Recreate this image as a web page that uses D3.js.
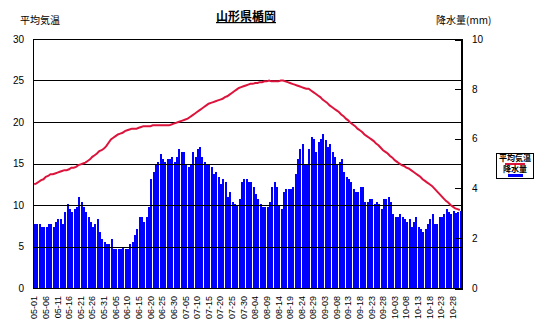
<!DOCTYPE html>
<html><head><meta charset="utf-8">
<script src="https://cdn.jsdelivr.net/npm/d3@7"></script>
<style>
html,body{margin:0;padding:0;background:#fff;}
svg{display:block;}
text{font-family:"Liberation Sans",Arial,sans-serif;}
.jp{font-family:"Noto Sans CJK JP","Noto Sans",sans-serif;}
</style></head>
<body>
<script>
const title = "山形県楯岡";
const leftTitle = "平均気温";
const rightTitle = "降水量(mm)";
const seriesNames = ["平均気温", "降水量"];
const startDate = "2000-05-01";
const tickLabels = ["05-01","05-06","05-11","05-16","05-21","05-26","05-31","06-05","06-10","06-15","06-20","06-25","06-30","07-05","07-10","07-15","07-20","07-25","07-30","08-04","08-09","08-14","08-19","08-24","08-29","09-03","09-08","09-13","09-18","09-23","09-28","10-03","10-08","10-13","10-18","10-23","10-28"];
const tempTicks = [0,5,10,15,20,25,30];
const precTicks = [0,2,4,6,8,10];

const temperature = [
12.5,12.6,12.8,13.0,13.1,13.4,13.5,13.7,13.7,13.8,
13.9,14.0,14.1,14.2,14.2,14.3,14.5,14.5,14.6,14.8,
14.9,15.0,15.1,15.3,15.5,15.8,16.0,16.2,16.5,16.6,
16.8,17.1,17.5,17.9,18.1,18.3,18.5,18.6,18.7,18.9,
19.0,19.1,19.2,19.2,19.2,19.3,19.4,19.5,19.5,19.5,
19.5,19.6,19.6,19.6,19.6,19.6,19.6,19.6,19.6,19.7,
19.8,19.9,20.0,20.1,20.2,20.3,20.4,20.6,20.8,21.0,
21.2,21.4,21.6,21.8,22.0,22.2,22.3,22.4,22.5,22.6,
22.7,22.8,23.0,23.1,23.3,23.5,23.7,23.9,24.1,24.2,
24.3,24.4,24.5,24.6,24.6,24.7,24.7,24.8,24.8,24.9,
24.9,25.0,24.9,24.9,24.9,24.9,25.0,25.0,24.9,24.8,
24.7,24.6,24.5,24.4,24.3,24.2,24.1,24.0,24.0,23.8,
23.6,23.4,23.2,23.0,22.7,22.5,22.3,22.0,21.8,21.6,
21.4,21.2,20.9,20.7,20.4,20.2,19.9,19.7,19.5,19.2,
19.0,18.8,18.5,18.3,18.1,17.9,17.7,17.4,17.2,16.9,
16.6,16.4,16.2,15.9,15.7,15.4,15.2,15.0,14.8,14.7,
14.5,14.4,14.2,14.0,13.8,13.6,13.4,13.1,12.9,12.7,
12.5,12.3,12.0,11.7,11.4,11.1,10.8,10.5,10.3,10.0,
9.8,9.6,9.5,9.4];

const precipitation = [
2.57,2.57,2.57,2.45,2.45,2.45,2.57,2.57,2.45,2.65,
2.77,2.77,2.57,3.05,3.37,3.17,3.05,3.17,3.25,3.65,
3.45,3.25,3.05,2.85,2.65,2.45,2.57,2.77,2.25,1.97,
1.85,1.77,1.77,1.97,1.57,1.57,1.57,1.57,1.65,1.57,
1.57,1.77,1.85,2.13,2.37,2.85,2.85,2.65,2.85,3.25,
4.38,4.66,4.98,5.06,5.38,5.18,5.06,5.18,5.18,5.26,
5.06,5.26,5.58,5.46,5.46,4.94,4.86,4.98,5.46,5.26,
5.58,5.66,5.26,5.06,4.98,4.98,4.86,4.58,4.66,4.46,
4.18,4.38,4.26,3.65,3.86,3.45,3.37,3.29,3.57,4.26,
4.38,4.38,4.26,4.26,4.06,3.78,3.57,3.37,3.25,3.25,
3.25,3.45,4.06,4.26,4.06,3.29,3.17,3.86,3.97,3.97,
3.97,4.06,4.58,5.18,5.58,5.78,4.98,4.98,5.58,6.06,
5.98,5.46,5.86,5.98,6.18,5.94,5.66,5.78,5.46,5.26,
4.98,5.06,5.18,4.66,4.46,4.38,4.26,3.97,3.86,3.86,
4.06,4.06,3.45,3.45,3.57,3.57,3.37,3.45,3.37,3.17,
3.57,3.57,3.65,3.45,2.97,2.85,2.85,2.97,2.85,2.77,
2.65,2.77,2.45,2.65,2.85,2.45,2.37,2.25,2.37,2.57,
2.77,2.97,2.57,2.57,2.85,2.85,2.97,3.17,3.05,2.97,
3.09,3.00,3.05,3.09];

const W = 553, H = 326;
const L = 33, R = 461, T = 39, B = 288;
const n = precipitation.length;
const fmt = d3.timeFormat("%m-%d");
const start = d3.timeParse("%Y-%m-%d")(startDate);
const days = d3.range(n).map(i => fmt(d3.timeDay.offset(start, i)));

const svg = d3.select("body").append("svg").attr("width", W).attr("height", H);

const x = d3.scaleBand().domain(days).range([L, R]).paddingInner(0).paddingOuter(0);
const yT = d3.scaleLinear().domain([0, 30]).range([B, T]);
const yP = d3.scaleLinear().domain([0, 10]).range([B, T]);

// bars
svg.append("g").selectAll("rect").data(precipitation).join("rect")
  .attr("x", (d, i) => Math.round(x(days[i])) + 1)
  .attr("width", 2)
  .attr("y", d => Math.round(yP(d)))
  .attr("height", d => B - Math.round(yP(d)))
  .attr("fill", "#0000ff")
  .attr("shape-rendering", "crispEdges");

// gridlines (drawn over bars)
svg.append("g").selectAll("line").data(tempTicks.filter(t => t > 0)).join("line")
  .attr("x1", L).attr("x2", R)
  .attr("y1", d => Math.round(yT(d)) + 0.5).attr("y2", d => Math.round(yT(d)) + 0.5)
  .attr("stroke", "#000").attr("stroke-width", 1).attr("shape-rendering", "crispEdges");

// left axis
const gl = svg.append("g").attr("transform", `translate(${L},0)`)
  .call(d3.axisLeft(yT).tickValues(tempTicks).tickSize(0).tickPadding(9));
gl.select(".domain").attr("stroke", "#000").attr("shape-rendering", "crispEdges");
gl.selectAll("text").attr("font-size", 10).attr("fill", "#000");

// right axis
const gr = svg.append("g").attr("transform", `translate(${R},0)`)
  .call(d3.axisRight(yP).tickValues(precTicks).tickSize(-6).tickPadding(17).tickFormat(d3.format("d")));
gr.select(".domain").attr("stroke", "#000").attr("stroke-width", 2).attr("shape-rendering", "crispEdges");
gr.selectAll(".tick line").attr("stroke", "#000").attr("shape-rendering", "crispEdges");
gr.selectAll("text").attr("font-size", 10).attr("fill", "#000").attr("text-anchor", "start").attr("dx", -6);

// bottom axis
const gb = svg.append("g").attr("transform", `translate(0,${B})`)
  .call(d3.axisBottom(x).tickValues(tickLabels).tickSize(0).tickPadding(0));
gb.select(".domain").attr("stroke", "#000").attr("stroke-width", 1.5).attr("shape-rendering", "crispEdges");
gb.selectAll("text")
  .attr("font-size", 9).attr("fill", "#000")
  .attr("text-anchor", "end")
  .attr("transform", "rotate(-90)")
  .attr("x", -8).attr("y", 0).attr("dy", "0.35em");

// line
svg.append("path").datum(temperature)
  .attr("fill", "none").attr("stroke", "#dc143c").attr("stroke-width", 2)
  .attr("d", d3.line().x((d, i) => x(days[i]) + x.bandwidth() / 2).y(d => yT(d)));

// titles
svg.append("text").attr("class", "jp").attr("x", 246).attr("y", 21)
  .attr("text-anchor", "middle").attr("font-size", 12).attr("font-weight", "bold")
  .attr("text-decoration", "underline").text(title);
svg.append("text").attr("class", "jp").attr("x", 20).attr("y", 24)
  .attr("font-size", 10).text(leftTitle);
svg.append("text").attr("class", "jp").attr("x", 436).attr("y", 24)
  .attr("font-size", 10).text(rightTitle);

// legend
const lg = svg.append("g");
lg.append("rect").attr("x", 496.5).attr("y", 153.5).attr("width", 37).attr("height", 25)
  .attr("fill", "#fff").attr("stroke", "#000").attr("stroke-width", 1);
lg.append("text").attr("class", "jp").attr("x", 515).attr("y", 161).attr("text-anchor", "middle")
  .attr("font-size", 8).attr("font-weight", "bold").text(seriesNames[0]);
lg.append("line").attr("x1", 505).attr("x2", 525).attr("y1", 164).attr("y2", 164)
  .attr("stroke", "#dc143c").attr("stroke-width", 2);
lg.append("text").attr("class", "jp").attr("x", 515).attr("y", 172).attr("text-anchor", "middle")
  .attr("font-size", 8).attr("font-weight", "bold").text(seriesNames[1]);
lg.append("rect").attr("x", 508).attr("y", 174).attr("width", 15).attr("height", 3).attr("fill", "#0000ff");
</script>
</body></html>
